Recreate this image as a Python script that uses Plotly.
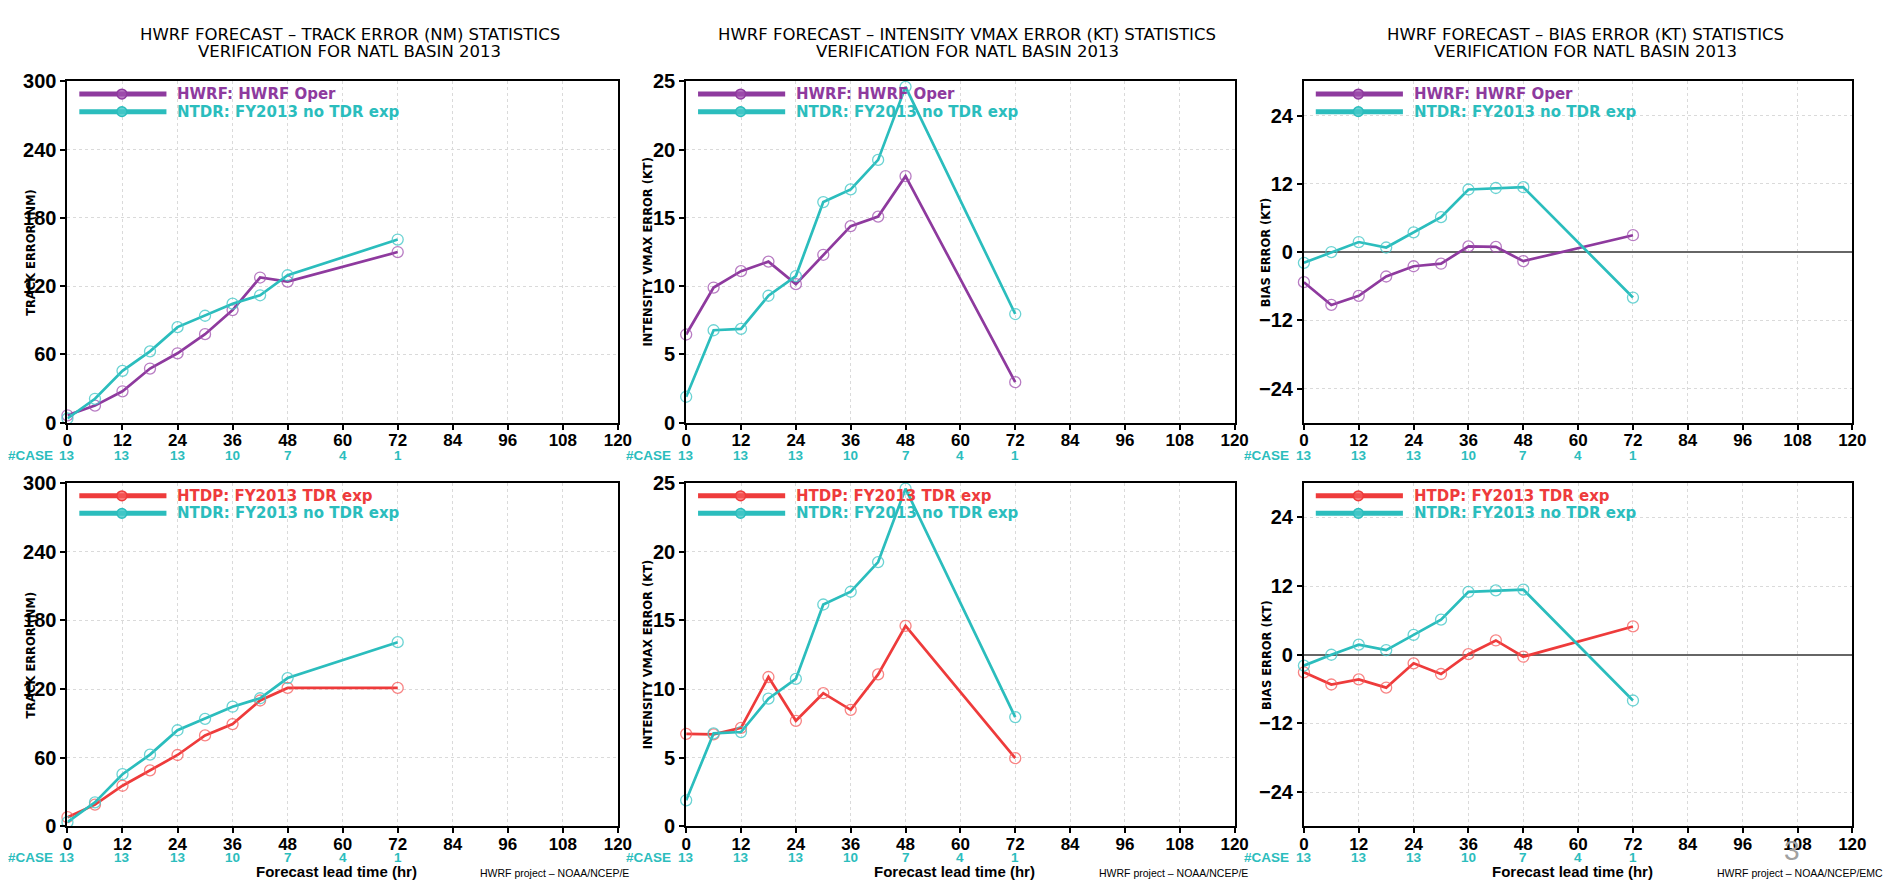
import plotly.graph_objects as go

# ---------------- data ----------------
lead_hours = [0, 6, 12, 18, 24, 30, 36, 42, 48, 72]

track_hwrf = [6.5, 15, 27.6, 47.6, 61, 77.8, 99, 127.6, 124, 150]
track_ntdr = [3.7, 21, 45.6, 62.7, 84, 94, 104.6, 112, 129.6, 161]
track_htdp = [8, 19, 35.5, 49, 62.4, 79.5, 89.4, 110, 121, 121]

vmax_hwrf = [6.46, 9.9, 11.1, 11.8, 10.15, 12.3, 14.4, 15.1, 18.06, 2.97]
vmax_ntdr = [1.9, 6.77, 6.87, 9.3, 10.74, 16.16, 17.09, 19.25, 24.6, 7.96]
vmax_htdp = [6.74, 6.7, 7.17, 10.88, 7.69, 9.7, 8.49, 11.07, 14.6, 4.97]

bias_hwrf = [-5.3, -9.3, -7.7, -4.3, -2.5, -2.05, 1.0, 0.9, -1.6, 2.96]
bias_ntdr = [-1.9, 0, 1.76, 0.8, 3.47, 6.14, 11.0, 11.26, 11.4, -8.0]
bias_htdp = [-3.07, -5.2, -4.3, -5.75, -1.5, -3.36, 0.1, 2.5, -0.34, 4.95]

case_hours = [0, 12, 24, 36, 48, 60, 72]
case_counts = [13, 13, 13, 10, 7, 4, 1]

x_ticks = [0, 12, 24, 36, 48, 60, 72, 84, 96, 108, 120]
track_ticks = [0, 60, 120, 180, 240, 300]
vmax_ticks = [0, 5, 10, 15, 20, 25]
bias_ticks = [-24, -12, 0, 12, 24]

titles = [
    "HWRF FORECAST \u2013 TRACK ERROR (NM) STATISTICS",
    "HWRF FORECAST \u2013 INTENSITY VMAX ERROR (KT) STATISTICS",
    "HWRF FORECAST \u2013 BIAS ERROR (KT) STATISTICS",
]
subtitle = "VERIFICATION FOR NATL BASIN 2013"
y_titles = ["TRACK ERROR (NM)", "INTENSITY VMAX ERROR (KT)", "BIAS ERROR (KT)"]

# ---------------- style ----------------
W, H = 1893, 883
PURPLE = "#8E3A9E"
TEAL = "#2BBDBD"
RED = "#EE3B3B"
PURPLE_M = "rgba(160,80,175,0.75)"
TEAL_M = "rgba(70,200,200,0.8)"
RED_M = "rgba(245,90,90,0.75)"
FONT = "Liberation Sans, Arial, sans-serif"
WIDE = "DejaVu Sans, Liberation Sans, sans-serif"

cols_px = [(55, 611), (680, 1234), (1304, 1858)]
rows_px = [(64, 414), (476, 828)]
ytitle_x = [18, 641, 1266]


def px(x):
    return x / W


def py(y):
    return 1 - y / H


fig = go.Figure()
shapes = []
annotations = []

panel_defs = []
for r in range(2):
    first = ("HWRF: HWRF Oper", PURPLE, PURPLE_M) if r == 0 else ("HTDP: FY2013 TDR exp", RED, RED_M)
    for c in range(3):
        if c == 0:
            a = track_hwrf if r == 0 else track_htdp
            b = track_ntdr
            rng, tks = [0, 300], track_ticks
        elif c == 1:
            a = vmax_hwrf if r == 0 else vmax_htdp
            b = vmax_ntdr
            rng, tks = [0, 25], vmax_ticks
        else:
            a = bias_hwrf if r == 0 else bias_htdp
            b = bias_ntdr
            rng, tks = [-30, 30], bias_ticks
        series = [(first[0], a, first[1], first[2]), ("NTDR: FY2013 no TDR exp", b, TEAL, TEAL_M)]
        panel_defs.append((r, c, series, rng, tks))

for i, (r, c, series, rng, tks) in enumerate(panel_defs):
    n = i + 1
    xa = "x" if n == 1 else f"x{n}"
    ya = "y" if n == 1 else f"y{n}"
    x0p, x1p = cols_px[c]
    y0p, y1p = rows_px[r]
    axis_common = dict(
        showline=True, linecolor="black", linewidth=2, mirror=True,
        ticks="outside", ticklen=5, tickwidth=1.5, tickcolor="black",
        showgrid=True, gridcolor="#dadada", griddash="dot", gridwidth=1,
    )
    fig.layout[f"xaxis{n if n > 1 else ''}"] = dict(
        axis_common, domain=[px(x0p), px(x1p)], range=[0, 120],
        tickvals=x_ticks, anchor=ya, zeroline=False, ticklabelstandoff=-4,
        tickfont=dict(family=FONT, size=17, color="black", weight="bold"),
    )
    fig.layout[f"yaxis{n if n > 1 else ''}"] = dict(
        axis_common, domain=[py(y1p), py(y0p)], range=rng,
        tickvals=tks, anchor=xa,
        tickfont=dict(family=FONT, size=20, color="black", weight="bold"),
        zeroline=(c == 2), zerolinecolor="#666666", zerolinewidth=1.8,
    )
    for name, vals, col, mcol in series:
        fig.add_trace(go.Scatter(
            x=lead_hours, y=vals, xaxis=xa, yaxis=ya, mode="lines+markers",
            name=name, showlegend=False, cliponaxis=False,
            line=dict(color=col, width=2.7),
            marker=dict(symbol="circle-open", size=11, color=mcol, line=dict(width=1.3, color=mcol)),
        ))

    # legend (drawn inside each panel)
    dom_w = x1p - x0p
    dom_h = y1p - y0p
    for k, (name, vals, col, mcol) in enumerate(series):
        ly = y0p + 13 + 18 * k
        ydom = (y1p - ly) / dom_h
        shapes.append(dict(type="line", xref=f"{xa} domain", yref=f"{ya} domain",
                           x0=12 / dom_w, x1=100 / dom_w, y0=ydom, y1=ydom,
                           line=dict(color=col, width=5)))
        cx = 55 / dom_w
        rx = 5 / dom_w
        ry = 5 / dom_h
        shapes.append(dict(type="circle", xref=f"{xa} domain", yref=f"{ya} domain",
                           x0=cx - rx, x1=cx + rx, y0=ydom - ry, y1=ydom + ry,
                           fillcolor=mcol, line=dict(color=col, width=1.5)))
        annotations.append(dict(xref=f"{xa} domain", yref=f"{ya} domain",
                                x=109 / dom_w, y=ydom, xanchor="left", yanchor="middle",
                                text=name, showarrow=False,
                                font=dict(family=WIDE, size=15, color=col, weight="bold")))

    # y-axis title
    annotations.append(dict(xref="paper", yref="paper", x=px(ytitle_x[c]), y=py((y0p + y1p) / 2),
                            text=y_titles[c], textangle=-90, showarrow=False,
                            xanchor="center", yanchor="middle",
                            font=dict(family=WIDE, size=11.5, color="black", weight="bold")))

    # case counts row
    case_y = py(448) if r == 0 else py(860)
    annotations.append(dict(xref="paper", yref="paper", x=px(x0p - 13), y=case_y,
                            text="#CASE", showarrow=False, xanchor="right", yanchor="middle",
                            font=dict(family=FONT, size=13.5, color=TEAL, weight="bold")))
    for h, cnt in zip(case_hours, case_counts):
        annotations.append(dict(xref=xa, yref="paper", x=h, y=case_y, text=str(cnt),
                                showarrow=False, xanchor="center", yanchor="middle",
                                font=dict(family=FONT, size=13.5, color=TEAL, weight="bold")))

    if r == 0:
        cxp = (x0p + x1p) / 2 + 7
        annotations.append(dict(xref="paper", yref="paper", x=px(cxp), y=py(16), text=titles[c],
                                showarrow=False, xanchor="center", yanchor="middle",
                                font=dict(family=WIDE, size=16.5, color="black")))
        annotations.append(dict(xref="paper", yref="paper", x=px(cxp), y=py(33), text=subtitle,
                                showarrow=False, xanchor="center", yanchor="middle",
                                font=dict(family=WIDE, size=16.5, color="black")))
    else:
        cxp = (x0p + x1p) / 2 - 6
        annotations.append(dict(xref="paper", yref="paper", x=px(cxp), y=py(874),
                                text="Forecast lead time (hr)", showarrow=False,
                                xanchor="center", yanchor="middle",
                                font=dict(family=FONT, size=15, color="black", weight="bold")))

# footers
footer_specs = [(470, "HWRF project \u2013 NOAA/NCEP/E"), (1095, "HWRF project \u2013 NOAA/NCEP/E"),
                (1719, "HWRF project \u2013 NOAA/NCEP/EMC")]
for fx, ft in footer_specs:
    annotations.append(dict(xref="paper", yref="paper", x=px(fx), y=py(876), text=ft,
                            showarrow=False, xanchor="left", yanchor="middle",
                            font=dict(family=FONT, size=10.5, color="black")))

# slide number
annotations.append(dict(xref="paper", yref="paper", x=px(1797), y=py(853), text="3",
                        showarrow=False, xanchor="center", yanchor="middle",
                        font=dict(family=FONT, size=28, color="#a0a0a0")))

fig.update_layout(
    width=W, height=H, margin=dict(l=0, r=0, t=0, b=0),
    paper_bgcolor="white", plot_bgcolor="white",
    shapes=shapes, annotations=annotations, showlegend=False,
)

fig.write_html("out.html")
